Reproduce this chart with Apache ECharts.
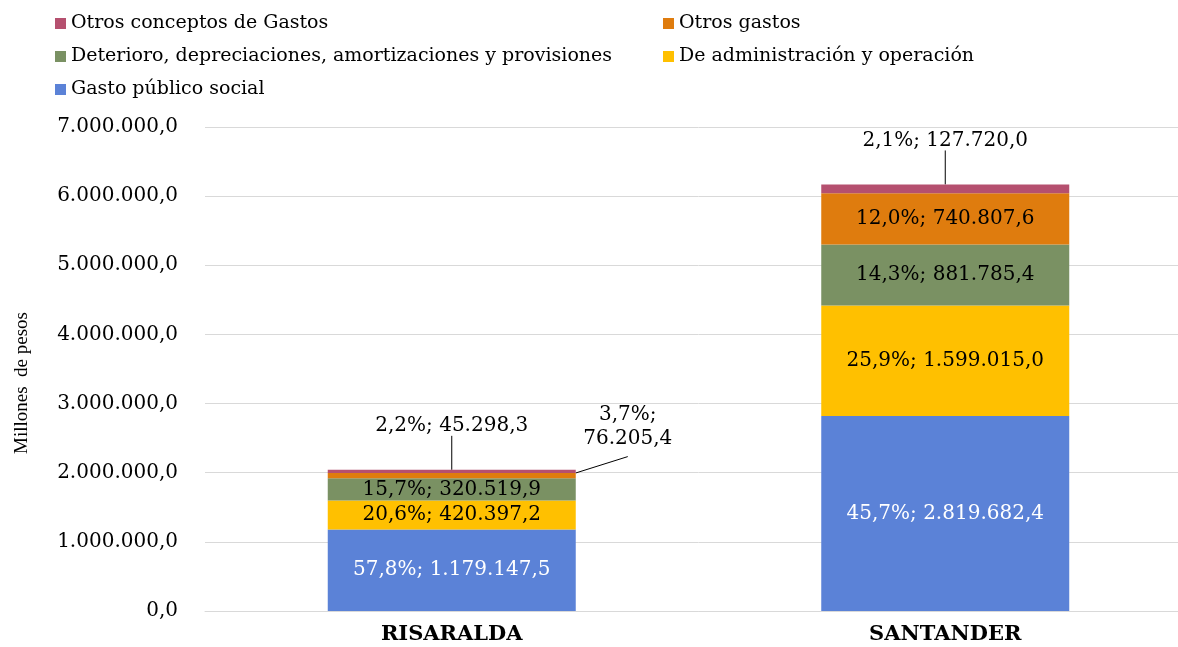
<!DOCTYPE html>
<html lang="es">
<head>
  <meta charset="UTF-8">
  <title>Gastos por departamento</title>
  <script src="https://cdn.jsdelivr.net/npm/echarts@6/dist/echarts.min.js"></script>
  <style>
    body { margin: 0; overflow: hidden; background: #fff; }
    #main { width: 1192px; height: 647px; }
  </style>
</head>
<body>
  <div id="main"></div>
  <script>
  // datos (millones de pesos)
  const categories = ['RISARALDA', 'SANTANDER'];
  const gastoPublicoSocial = [1179147.5, 2819682.4];
  const administracion = [420397.2, 1599015.0];
  const deterioro = [320519.9, 881785.4];
  const otrosGastos = [76205.4, 740807.6];
  const otrosConceptos = [45298.3, 127720.0];

  const totals = categories.map((c, i) =>
    gastoPublicoSocial[i] + administracion[i] + deterioro[i] + otrosGastos[i] + otrosConceptos[i]);

  const font = '"DejaVu Serif", serif';
  const fontTimes = '"Liberation Serif", "Times New Roman", serif';

  function fmt(v, dec) {
    const parts = v.toFixed(dec).split('.');
    const ent = parts[0].replace(/\B(?=(\d{3})+(?!\d))/g, '.');
    return parts.length > 1 ? ent + ',' + parts[1] : ent;
  }

  function pctOf(p) {
    return fmt(p.value / totals[p.dataIndex] * 100, 1) + '%';
  }

  const baseLabel = {
    show: true,
    fontFamily: font,
    fontSize: 20,
    color: '#000',
    formatter: p => pctOf(p) + '; ' + fmt(p.value, 1)
  };

  const leader = { show: true, lineStyle: { color: '#000', width: 1 } };

  function makeSeries(name, data, color, extra) {
    return Object.assign({
      name: name,
      type: 'bar',
      stack: 'total',
      data: data,
      barWidth: 248,
      itemStyle: { color: color },
      label: baseLabel
    }, extra || {});
  }

  const chart = echarts.init(document.getElementById('main'));

  const legendText = { fontFamily: font, fontSize: 19, color: '#000' };
  const legendBase = {
    orient: 'vertical',
    top: 9,
    itemWidth: 11, itemHeight: 11, itemGap: 14, itemTextGap: 4,
    icon: 'rect',
    textStyle: legendText
  };

  chart.setOption({
    animation: false,
    textStyle: { fontFamily: font },
    legend: [
      Object.assign({}, legendBase, {
        left: 50,
        data: ['Otros conceptos de Gastos', 'Deterioro, depreciaciones, amortizaciones y provisiones', 'Gasto público social']
      }),
      Object.assign({}, legendBase, {
        left: 658,
        data: ['Otros gastos', 'De administración y operación']
      })
    ],
    grid: { left: 205, right: 0, top: 127, bottom: 36 },
    xAxis: {
      type: 'category',
      data: categories,
      axisLine: { lineStyle: { color: '#D9D9D9' } },
      axisTick: { show: false },
      axisLabel: { fontFamily: font, fontSize: 21, fontWeight: 'bold', color: '#000', margin: 13 }
    },
    yAxis: {
      type: 'value',
      min: 0, max: 7000000, interval: 1000000,
      name: 'Millones  de pesos',
      nameLocation: 'middle',
      nameGap: 173,
      nameTextStyle: { fontFamily: fontTimes, fontSize: 19, color: '#000', padding: [0, 0, 0, -28] },
      splitLine: { lineStyle: { color: '#D9D9D9', width: 1 } },
      axisLabel: {
        fontFamily: font, fontSize: 20, color: '#000', margin: 27,
        formatter: v => fmt(v, 1)
      }
    },
    series: [
      makeSeries('Gasto público social', gastoPublicoSocial, '#5B82D7',
        { label: Object.assign({}, baseLabel, { color: '#fff' }) }),
      makeSeries('De administración y operación', administracion, '#FFC000'),
      makeSeries('Deterioro, depreciaciones, amortizaciones y provisiones', deterioro, '#7A9163'),
      makeSeries('Otros gastos', otrosGastos, '#DF7C0E', {
        data: [
          // two blank lines on top so the leader attaches to the bottom of the label
          { value: otrosGastos[0], label: { position: 'right', distance: 0, align: 'center', lineHeight: 24,
              padding: [0, 0, 12, 0],
              formatter: p => '\n\n' + pctOf(p) + ';\n' + fmt(p.value, 1) } },
          otrosGastos[1]
        ],
        labelLayout: p => p.dataIndex === 0 ? { dx: 52, dy: -73 } : {},
        labelLine: leader
      }),
      makeSeries('Otros conceptos de Gastos', otrosConceptos, '#B5506F', {
        label: Object.assign({}, baseLabel, { position: 'top', distance: 4 }),
        labelLayout: { dy: -30 },
        labelLine: leader
      })
    ]
  });
  </script>
</body>
</html>
